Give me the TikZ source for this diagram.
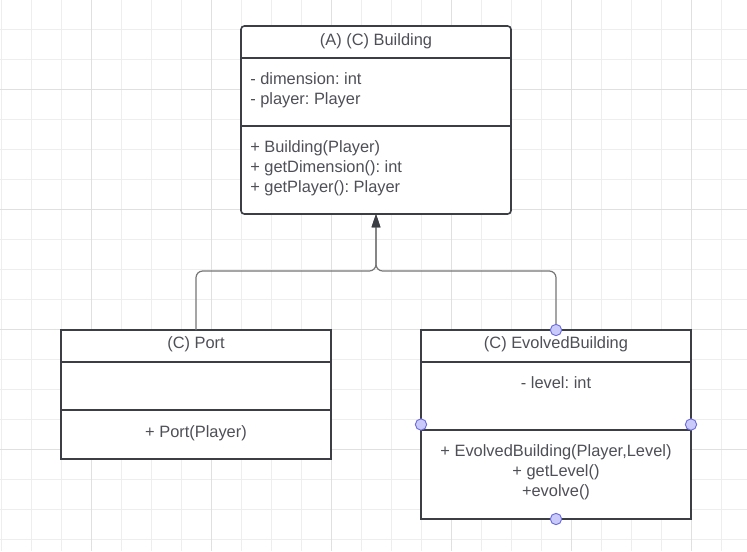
\documentclass[tikz,border=0pt]{standalone}
\usepackage{fontspec}
\setmainfont{Liberation Sans}
\usetikzlibrary{arrows.meta,calc,positioning}

\definecolor{boxline}{HTML}{3B3E44}
\definecolor{txtgray}{HTML}{4F5057}
\definecolor{gridminor}{HTML}{EEEEEE}
\definecolor{gridmajor}{HTML}{E0E0E0}
\definecolor{connline}{HTML}{767676}
\definecolor{handlefill}{HTML}{C9C9FA}
\definecolor{handledraw}{HTML}{6C6CDE}

\frenchspacing
\begin{document}
\begin{tikzpicture}[x=0.75pt, y=-0.75pt,
font=\fontsize{12.3}{15}\selectfont, text=txtgray,
umlclass/.style={draw=boxline, line width=1.2pt, fill=white, minimum width=202.5pt, inner sep=0pt, outer sep=0pt},
divider/.style={draw=boxline, line width=0.9pt},
member/.style={align=left, anchor=west, inner sep=0pt},
conn/.style={draw=connline, line width=0.9pt, rounded corners=5pt, -{Triangle[length=10pt, width=6.5pt, color=boxline]}},
handle/.style={circle, draw=handledraw, fill=handlefill, line width=0.7pt, minimum size=8.5pt, inner sep=0pt},
]

% Background and grid
\useasboundingbox[fill=white] (0,0) rectangle (747,551);
\foreach \x in {1.5,31.5,...,747} \draw[gridminor, line width=0.75pt] (\x,0) -- (\x,551);
\foreach \y in {29.5,59.5,...,551} \draw[gridminor, line width=0.75pt] (0,\y) -- (747,\y);
\foreach \x in {91.5,211.5,...,747} \draw[gridmajor, line width=0.75pt] (\x,0) -- (\x,551);
\foreach \y in {89.5,209.5,...,551} \draw[gridmajor, line width=0.75pt] (0,\y) -- (747,\y);

% Class boxes
\node[umlclass, rounded corners=2.5pt, minimum height=141pt] (building) at (376,120) {};
\node[umlclass, minimum height=96.75pt] (port) at (196,394.5) {};
\node[umlclass, minimum height=141.75pt] (evolved) at (556,424.5) {};

% Compartment lines
\draw[divider] ($(building.north west)+(0,32)$) -- ($(building.north east)+(0,32)$);
\draw[divider] ($(building.north west)+(0,100)$) -- ($(building.north east)+(0,100)$);
\draw[divider] ($(port.north west)+(0,32)$) -- ($(port.north east)+(0,32)$);
\draw[divider] ($(port.north west)+(0,80)$) -- ($(port.north east)+(0,80)$);
\draw[divider] ($(evolved.north west)+(0,32)$) -- ($(evolved.north east)+(0,32)$);
\draw[divider] ($(evolved.north west)+(0,100)$) -- ($(evolved.north east)+(0,100)$);

% Class texts
\node (building_title) at ($(building.north)+(0,15)$) {(A) (C) Building};
\node[member] (building_attr) at ($(building.north west)+(9,64)$) {- dimension: int\\- player: Player};
\node[member] (building_ops) at ($(building.north west)+(9,142)$) {+ Building(Player)\\+ getDimension(): int\\+ getPlayer(): Player};

\node (port_title) at ($(port.north)+(0,14)$) {(C) Port};
\node (port_ops) at ($(port.north)+(0,103)$) {+ Port(Player)};

\node (evolved_title) at ($(evolved.north)+(0,14)$) {(C) EvolvedBuilding};
\node (evolved_attr) at ($(evolved.north)+(0,53)$) {- level: int};
\node[align=center] (evolved_ops) at ($(evolved.north)+(0,142)$) {+ EvolvedBuilding(Player,Level)\\+ getLevel()\\+evolve()};

% Inheritance connectors
\coordinate (joint) at (376,271);
\draw[conn] (port.north) |- (joint) -- (building.south);
\draw[conn] (evolved.north) |- (joint) -- (building.south);

% Selection handles
\node[handle] (h_top) at (evolved.north) {};
\node[handle] (h_left) at (evolved.west) {};
\node[handle] (h_right) at (evolved.east) {};
\node[handle] (h_bottom) at (evolved.south) {};

\end{tikzpicture}
\end{document}
